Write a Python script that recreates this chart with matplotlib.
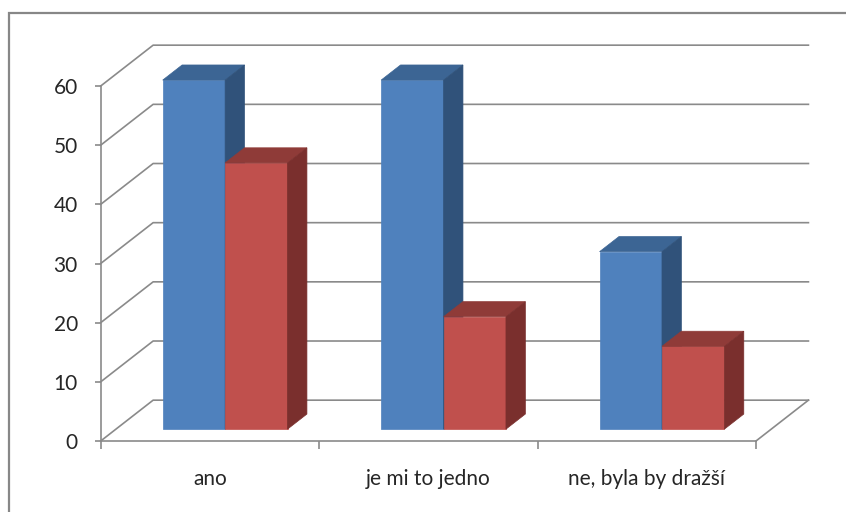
import matplotlib

matplotlib.use('Agg')

import matplotlib.pyplot as plt
from matplotlib.patches import Polygon, Rectangle

categories = ['ano', 'je mi to jedno', 'ne, byla by dražší']
blue_values = [59, 59, 30]
red_values = [45, 19, 14]
y_ticks = [0, 10, 20, 30, 40, 50, 60]

# Fake Excel-style 3-D: depth 0 is the front edge of the floor, 1 the back wall.
DEPTH_X = 0.24   # category units per unit of depth
DEPTH_Y = 6.9    # value units per unit of depth
BAR_FRONT, BAR_BACK = 0.29, 0.66
BAR_W = 0.2857

GRID = '#8a8a8a'
TEXT = '#262626'
BLUE = ('#4f81bd', '#3c6594', '#30527a')   # front, top, side
RED = ('#c0504d', '#8f3b38', '#7a2f2d')

plt.rcParams['font.family'] = ['Lato', 'DejaVu Sans']


def proj(x, y, d):
    return (x + d * DEPTH_X, y + d * DEPTH_Y)


def draw_bar(ax, x0, value, colors):
    front, top, side = colors
    x1 = x0 + BAR_W
    d0, d1 = BAR_FRONT, BAR_BACK
    faces = [
        ([proj(x0, 0, d0), proj(x1, 0, d0), proj(x1, value, d0), proj(x0, value, d0)], front),
        ([proj(x0, value, d0), proj(x1, value, d0), proj(x1, value, d1), proj(x0, value, d1)], top),
        ([proj(x1, 0, d0), proj(x1, 0, d1), proj(x1, value, d1), proj(x1, value, d0)], side),
    ]
    for pts, c in faces:
        ax.add_patch(Polygon(pts, closed=True, facecolor=c, edgecolor=c,
                             linewidth=0.5, clip_on=False, zorder=3))


fig = plt.figure(figsize=(8.46, 5.12), dpi=100)
fig.patch.set_facecolor('white')
ax = fig.add_axes([100.7 / 846, 71 / 512, 655.3 / 846, 355 / 512])
ax.set_xlim(0, 3)
ax.set_ylim(0, 60)
ax.set_facecolor('none')

# side wall diagonals + back wall gridlines
n = len(categories)
for v in y_ticks:
    ax.plot([0, DEPTH_X, n + DEPTH_X], [v, v + DEPTH_Y, v + DEPTH_Y],
            color=GRID, linewidth=1.2, clip_on=False, zorder=1)
ax.plot([n, n + DEPTH_X], [0, DEPTH_Y], color=GRID, linewidth=1.2, clip_on=False, zorder=1)

for i in range(n):
    draw_bar(ax, i + 0.5 - BAR_W, blue_values[i], BLUE)
    draw_bar(ax, i + 0.5, red_values[i], RED)

ax.spines[['top', 'right']].set_visible(False)
ax.spines[['left', 'bottom']].set_color(GRID)
ax.spines[['left', 'bottom']].set_linewidth(1.2)

ax.set_yticks(y_ticks)
ax.tick_params(axis='y', length=4.5, width=1.2, color=GRID, pad=12,
               labelsize=15, labelcolor=TEXT)
ax.set_xticks(range(n + 1))
ax.set_xticklabels([])
ax.set_xticks([i + 0.5 for i in range(n)], minor=True)
ax.set_xticklabels(categories, minor=True)
ax.tick_params(axis='x', which='major', length=5.5, width=1.2, color=GRID)
ax.tick_params(axis='x', which='minor', length=0, pad=20, labelsize=15, labelcolor=TEXT)

# chart-area border, cut off by the right and bottom edges of the image
fig.add_artist(Rectangle((9 / 846, -0.1), 1.2, (512 - 13) / 512 + 0.1,
                         transform=fig.transFigure, fill=False,
                         edgecolor='#878787', linewidth=1.6))

fig.savefig('out.png', dpi=100, facecolor='white')
